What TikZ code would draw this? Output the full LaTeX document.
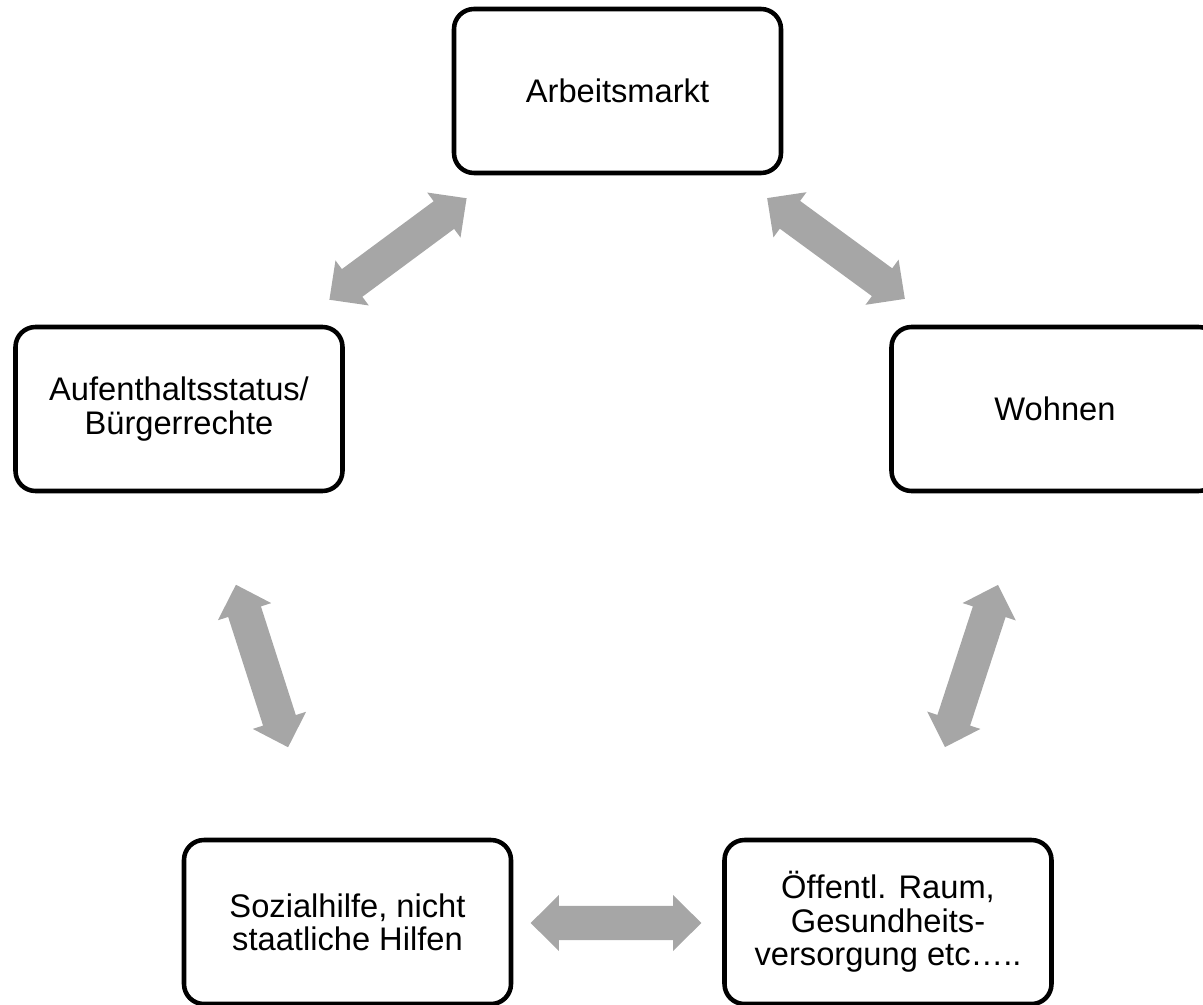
\documentclass[tikz,border=0pt]{standalone}
\usepackage{fontspec}
\setmainfont{Liberation Sans}
\definecolor{arrowgray}{RGB}{166,166,166}
\tikzset{
  topicbox/.style={draw=black, line width=3.4pt, rounded corners=15pt, fill=white,
    minimum width=245.25pt, minimum height=123pt, inner sep=0pt, align=center,
    font=\fontsize{24.5}{25}\selectfont},
  fatarrow/.style={fill=arrowgray, draw=none}
}
% #1 = centre, #2 = angle, #3 = name
\newcommand\grayarrow[3]{%
  \begin{scope}[shift={#1}, rotate=#2]
    \coordinate (#3) at (0pt,0pt);
    \fill[fatarrow] (64pt,0pt) -- (42.8pt,21pt) -- (42.8pt,12.9pt) -- (-42.8pt,12.9pt)
      -- (-42.8pt,21pt) -- (-64pt,0pt) -- (-42.8pt,-21pt) -- (-42.8pt,-12.9pt)
      -- (42.8pt,-12.9pt) -- (42.8pt,-21pt) -- cycle;
  \end{scope}}
\begin{document}
\begin{tikzpicture}[x=0.75pt,y=-0.75pt]
\useasboundingbox (0,0) rectangle (1203,1005);
\node[topicbox] (arbeit) at (617.5,91) {Arbeitsmarkt};
\node[topicbox] (aufent) at (179,409) {Aufenthaltsstatus/\\Bürgerrechte};
\node[topicbox] (wohnen) at (1055,409) {Wohnen};
\node[topicbox] (sozial) at (347.5,922) {Sozialhilfe, nicht\\staatliche Hilfen};
\node[topicbox] (oeffent) at (888,922) {Öf\kern0pt{}fentl. Raum,\\Gesundheits-\\versorgung etc…..};
\grayarrow{(398,249)}{36.5}{a1}
\grayarrow{(836,248.5)}{-36.2}{a2}
\grayarrow{(262,666)}{107.8}{a3}
\grayarrow{(971.5,666)}{71.9}{a4}
\grayarrow{(616,923)}{0}{a5}
\end{tikzpicture}
\end{document}
